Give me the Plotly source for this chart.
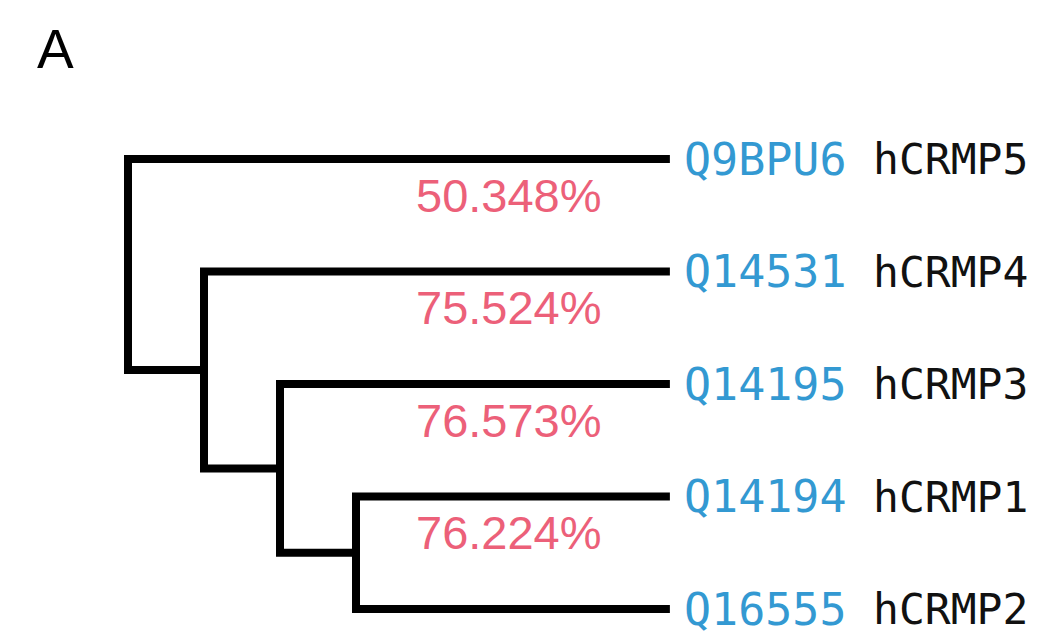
import plotly.graph_objects as go

# Leaves, top to bottom
leaf_ids = ["Q9BPU6", "Q14531", "Q14195", "Q14194", "Q16555"]
leaf_names = ["hCRMP5", "hCRMP4", "hCRMP3", "hCRMP1", "hCRMP2"]
similarity = ["50.348%", "75.524%", "76.573%", "76.224%"]

# Merges (child_a, child_b, depth); leaves are 0..4, new nodes 5..8
merges = [(3, 4, 3.0), (2, 5, 2.0), (1, 6, 1.0), (0, 7, 0.0)]
leaf_depth = 7.13

# compute node positions
node_x = {i: leaf_depth for i in range(len(leaf_ids))}
node_y = {i: float(i) for i in range(len(leaf_ids))}
xs, ys = [], []
nid = len(leaf_ids)
for a, b, d in merges:
    node_x[nid] = d
    node_y[nid] = (node_y[a] + node_y[b]) / 2
    xs += [node_x[a], d, d, node_x[b], None]
    ys += [node_y[a], node_y[a], node_y[b], node_y[b], None]
    nid += 1

fig = go.Figure()
fig.add_trace(go.Scatter(x=xs, y=ys, mode="lines",
                         line=dict(color="black", width=8),
                         hoverinfo="skip", showlegend=False))

mono = "DejaVu Sans Mono"
for i, (lid, nm) in enumerate(zip(leaf_ids, leaf_names)):
    fig.add_annotation(x=7.30, y=i, text=lid, xref="x", yref="y",
                       xanchor="left", yanchor="middle", showarrow=False,
                       borderpad=0,
                       font=dict(family=mono, size=45, color="#3399d2"))
    fig.add_annotation(x=9.79, y=i, text=nm, xref="x", yref="y",
                       xanchor="left", yanchor="middle", showarrow=False,
                       borderpad=0,
                       font=dict(family=mono, size=43, color="#111111"))

for i, s in enumerate(similarity):
    fig.add_annotation(x=6.25, y=i + 0.32, text=s, xref="x", yref="y",
                       xanchor="right", yanchor="middle", showarrow=False,
                       borderpad=0,
                       font=dict(family="Liberation Sans", size=47, color="#ec6079"))

fig.add_annotation(x=(55 - 128) / 76, y=(49 - 159) / 112.5, text="A",
                   xref="x", yref="y", showarrow=False, borderpad=0,
                   font=dict(family="Liberation Sans", size=55, color="black"))

fig.update_layout(
    width=1040, height=637,
    margin=dict(l=0, r=0, t=0, b=0),
    paper_bgcolor="white", plot_bgcolor="white",
    xaxis=dict(range=[-128 / 76, (1040 - 128) / 76], visible=False, fixedrange=True),
    yaxis=dict(range=[(637 - 159) / 112.5, -159 / 112.5], visible=False, fixedrange=True),
)

fig.write_html("out.html", config={"displayModeBar": False},
               post_script="document.body.style.margin='0';")
